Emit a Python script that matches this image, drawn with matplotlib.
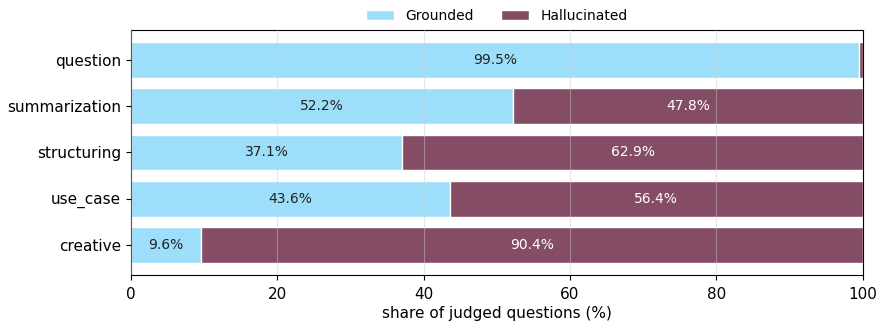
import numpy as np
import matplotlib.pyplot as plt

categories = ["question", "summarization", "structuring", "use_case", "creative"]
grounded = [99.5, 52.2, 37.1, 43.6, 9.6]
hallucinated = [0.5, 47.8, 62.9, 56.4, 90.4]

c_ground = "#9ddffa"
c_hall = "#854d65"

fig, ax = plt.subplots(figsize=(8.84, 3.29), dpi=100)
y = np.arange(len(categories))

b1 = ax.barh(y, grounded, height=0.77, color=c_ground, edgecolor="white",
             linewidth=1, label="Grounded")
b2 = ax.barh(y, hallucinated, left=grounded, height=0.77, color=c_hall,
             edgecolor="white", linewidth=1, label="Hallucinated")

for i in range(len(categories)):
    g, h = grounded[i], hallucinated[i]
    if g > 3:
        ax.text(g / 2, y[i], f"{g:.1f}%", ha="center", va="center",
                fontsize=10, color="#222222")
    if h > 3:
        ax.text(g + h / 2, y[i], f"{h:.1f}%", ha="center", va="center",
                fontsize=10, color="white")

ax.set_yticks(y)
ax.set_yticklabels(categories, fontsize=11)
ax.set_ylim(len(categories) - 0.35, -0.65)
ax.set_xlim(0, 100)
ax.tick_params(axis="x", labelsize=11, pad=5)
ax.set_xlabel("share of judged questions (%)", fontsize=11, labelpad=3)
ax.grid(axis="x", color="#cccccc", alpha=0.45, linewidth=0.8)
ax.set_axisbelow(False)

ax.legend(loc="lower center", bbox_to_anchor=(0.5, 1.0), ncol=2, frameon=False,
          fontsize=10, handlelength=2.0, columnspacing=2.0, borderaxespad=0.1)

fig.subplots_adjust(left=0.148, right=0.976, top=0.909, bottom=0.164)
fig.savefig("out.png", dpi=100)
